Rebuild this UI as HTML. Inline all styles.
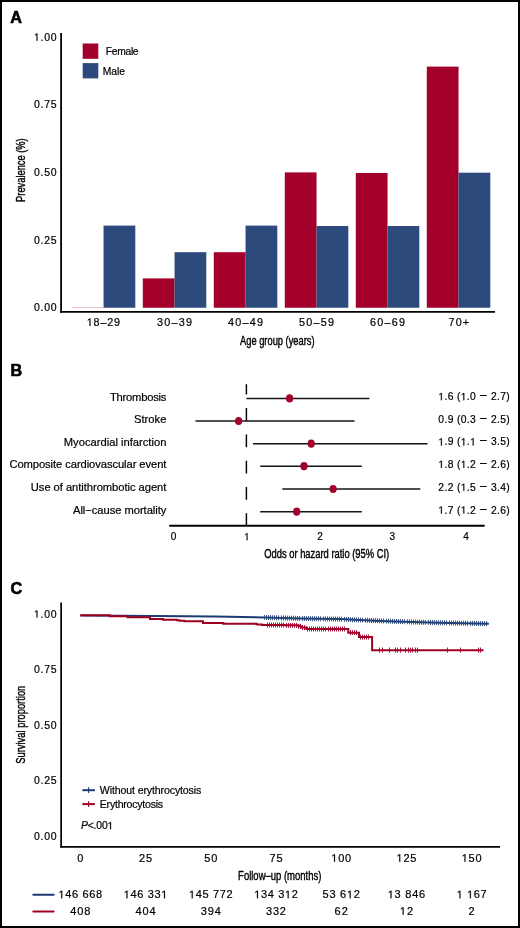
<!DOCTYPE html>
<html><head><meta charset="utf-8"><style>
html,body{margin:0;padding:0;background:#fff;}
svg{display:block;font-family:"Liberation Sans", sans-serif;will-change:transform;}
text{stroke:#000;stroke-width:0.2px;}
.cd{stroke:#000;stroke-width:0.4px;}
.pl{stroke:#000;stroke-width:0.6px;}
</style></head><body>
<svg width="520" height="928" viewBox="0 0 520 928">
<rect width="520" height="928" fill="#fff"/>
<rect x="1" y="1" width="518" height="926" fill="none" stroke="#000" stroke-width="2"/>
<text x="10.2" y="22.6" font-size="16.2" text-anchor="start" font-weight="bold" class="pl">A</text>
<line x1="61.1" y1="33" x2="61.1" y2="312.7" stroke="#000" stroke-width="1.8"/>
<line x1="60.2" y1="311.85" x2="495" y2="311.85" stroke="#000" stroke-width="1.8"/>
<text x="56.6" y="40.8" font-size="10.5" text-anchor="end" textLength="22.7" lengthAdjust="spacing" id="t0"> .00</text>
<text x="56.6" y="108.3" font-size="10.5" text-anchor="end" textLength="22.7" lengthAdjust="spacing" >0.75</text>
<text x="56.6" y="176.0" font-size="10.5" text-anchor="end" textLength="22.7" lengthAdjust="spacing" >0.50</text>
<text x="56.6" y="243.70000000000002" font-size="10.5" text-anchor="end" textLength="22.7" lengthAdjust="spacing" >0.25</text>
<text x="56.6" y="311.1" font-size="10.5" text-anchor="end" textLength="22.7" lengthAdjust="spacing" >0.00</text>
<text x="0" y="0" font-size="12.5" text-anchor="middle" textLength="63.6" lengthAdjust="spacingAndGlyphs" class="cd" transform="translate(25.0,170.1) rotate(-90)">Prevalence (%)</text>
<rect x="71.80" y="307.4" width="31.75" height="0.7" fill="#e59aae"/>
<rect x="103.55" y="225.6" width="31.75" height="82.15" fill="#2c4a7c"/>
<rect x="142.80" y="278.4" width="31.75" height="29.35" fill="#a3002b"/>
<rect x="174.55" y="252.2" width="31.75" height="55.55" fill="#2c4a7c"/>
<rect x="213.80" y="252.2" width="31.75" height="55.55" fill="#a3002b"/>
<rect x="245.55" y="225.6" width="31.75" height="82.15" fill="#2c4a7c"/>
<rect x="284.80" y="172.4" width="31.75" height="135.35" fill="#a3002b"/>
<rect x="316.55" y="226.0" width="31.75" height="81.75" fill="#2c4a7c"/>
<rect x="355.80" y="173.0" width="31.75" height="134.75" fill="#a3002b"/>
<rect x="387.55" y="226.0" width="31.75" height="81.75" fill="#2c4a7c"/>
<rect x="426.80" y="66.6" width="31.75" height="241.15" fill="#a3002b"/>
<rect x="458.55" y="172.7" width="31.75" height="135.05" fill="#2c4a7c"/>
<text x="103.4" y="326" font-size="10.8" text-anchor="middle" textLength="33.2" lengthAdjust="spacing" id="t1"> 8–29</text>
<text x="174.55" y="326" font-size="10.8" text-anchor="middle" textLength="35" lengthAdjust="spacing" >30–39</text>
<text x="245.55" y="326" font-size="10.8" text-anchor="middle" textLength="35" lengthAdjust="spacing" >40–49</text>
<text x="316.55" y="326" font-size="10.8" text-anchor="middle" textLength="35" lengthAdjust="spacing" >50–59</text>
<text x="387.55" y="326" font-size="10.8" text-anchor="middle" textLength="35" lengthAdjust="spacing" >60–69</text>
<text x="458.85" y="326" font-size="10.8" text-anchor="middle" textLength="20.6" lengthAdjust="spacing" >70+</text>
<text x="277.3" y="344.7" font-size="12.5" text-anchor="middle" textLength="74.6" lengthAdjust="spacingAndGlyphs" class="cd">Age group (years)</text>
<rect x="82.7" y="43.5" width="15.6" height="15.3" fill="#a3002b"/>
<rect x="82.7" y="63.1" width="15.6" height="15.3" fill="#2c4a7c"/>
<text x="105.8" y="54.7" font-size="10.3" text-anchor="start" textLength="32.8" lengthAdjust="spacing" >Female</text>
<text x="102.7" y="74.8" font-size="10.3" text-anchor="start" textLength="22.2" lengthAdjust="spacing" >Male</text>
<text x="10.5" y="376.0" font-size="16.2" text-anchor="start" font-weight="bold" class="pl">B</text>
<line x1="246.4" y1="384.3" x2="246.4" y2="525.5" stroke="#000" stroke-width="1.45" stroke-dasharray="12.8 13.5" stroke-dashoffset="2.5"/>
<text x="166.4" y="400.5" font-size="11.2" text-anchor="end" textLength="56.5" lengthAdjust="spacing" >Thrombosis</text>
<line x1="246.4" y1="398.4" x2="369.4" y2="398.4" stroke="#151515" stroke-width="1.55"/>
<ellipse cx="289.6" cy="398.4" rx="3.6" ry="4.1" fill="#a3002b"/>
<text x="438.3" y="400.2" font-size="10.3" text-anchor="start" textLength="71.5" lengthAdjust="spacing" id="t2"> .6 ( .0 <tspan font-size='13.5'>−</tspan> 2.7)</text>
<text x="166.4" y="423.1" font-size="11.2" text-anchor="end" >Stroke</text>
<line x1="195.5" y1="421.0" x2="354.5" y2="421.0" stroke="#151515" stroke-width="1.55"/>
<ellipse cx="238.6" cy="421.0" rx="3.6" ry="4.1" fill="#a3002b"/>
<text x="438.3" y="422.8" font-size="10.3" text-anchor="start" textLength="71.5" lengthAdjust="spacing" >0.9 (0.3 <tspan font-size='13.5'>−</tspan> 2.5)</text>
<text x="166.4" y="445.75" font-size="11.2" text-anchor="end" >Myocardial infarction</text>
<line x1="252.9" y1="443.65" x2="427.6" y2="443.65" stroke="#151515" stroke-width="1.55"/>
<ellipse cx="311.2" cy="443.65" rx="3.6" ry="4.1" fill="#a3002b"/>
<text x="438.3" y="445.45" font-size="10.3" text-anchor="start" textLength="71.5" lengthAdjust="spacing" id="t3"> .9 ( .  <tspan font-size='13.5'>−</tspan> 3.5)</text>
<text x="166.4" y="468.25" font-size="11.2" text-anchor="end" textLength="157.0" lengthAdjust="spacing" >Composite cardiovascular event</text>
<line x1="260.2" y1="466.15" x2="361.8" y2="466.15" stroke="#151515" stroke-width="1.55"/>
<ellipse cx="304.0" cy="466.15" rx="3.6" ry="4.1" fill="#a3002b"/>
<text x="438.3" y="467.95" font-size="10.3" text-anchor="start" textLength="71.5" lengthAdjust="spacing" id="t4"> .8 ( .2 <tspan font-size='13.5'>−</tspan> 2.6)</text>
<text x="166.4" y="491.1" font-size="11.2" text-anchor="end" textLength="135.6" lengthAdjust="spacing" >Use of antithrombotic agent</text>
<line x1="282.3" y1="489.0" x2="420.3" y2="489.0" stroke="#151515" stroke-width="1.55"/>
<ellipse cx="333.1" cy="489.0" rx="3.6" ry="4.1" fill="#a3002b"/>
<text x="438.3" y="490.8" font-size="10.3" text-anchor="start" textLength="71.5" lengthAdjust="spacing" id="t5">2.2 ( .5 <tspan font-size='13.5'>−</tspan> 3.4)</text>
<text x="166.4" y="513.8" font-size="11.2" text-anchor="end" textLength="93.4" lengthAdjust="spacing" >All−cause mortality</text>
<line x1="260.2" y1="511.7" x2="361.8" y2="511.7" stroke="#151515" stroke-width="1.55"/>
<ellipse cx="296.7" cy="511.7" rx="3.6" ry="4.1" fill="#a3002b"/>
<text x="438.3" y="513.5" font-size="10.3" text-anchor="start" textLength="71.5" lengthAdjust="spacing" id="t6"> .7 ( .2 <tspan font-size='13.5'>−</tspan> 2.6)</text>
<line x1="169.2" y1="525.8" x2="484.7" y2="525.8" stroke="#000" stroke-width="1.9"/>
<text x="173.5" y="540.2" font-size="10" text-anchor="middle" >0</text>
<text x="246.9" y="540.2" font-size="10" text-anchor="middle" id="t7"> </text>
<text x="320.0" y="540.2" font-size="10" text-anchor="middle" >2</text>
<text x="392.4" y="540.2" font-size="10" text-anchor="middle" >3</text>
<text x="466.0" y="540.2" font-size="10" text-anchor="middle" >4</text>
<text x="326.7" y="558" font-size="12" text-anchor="middle" textLength="125" lengthAdjust="spacingAndGlyphs" class="cd">Odds or hazard ratio (95% CI)</text>
<text x="10.4" y="594.0" font-size="16.2" text-anchor="start" font-weight="bold" class="pl">C</text>
<line x1="61.15" y1="602.5" x2="61.15" y2="847.6" stroke="#000" stroke-width="1.75"/>
<line x1="60.3" y1="846.75" x2="500" y2="846.75" stroke="#000" stroke-width="1.75"/>
<text x="56.6" y="617.5999999999999" font-size="10.5" text-anchor="end" textLength="22.7" lengthAdjust="spacing" id="t8"> .00</text>
<text x="56.6" y="673.0999999999999" font-size="10.5" text-anchor="end" textLength="22.7" lengthAdjust="spacing" >0.75</text>
<text x="56.6" y="728.5999999999999" font-size="10.5" text-anchor="end" textLength="22.7" lengthAdjust="spacing" >0.50</text>
<text x="56.6" y="784.0999999999999" font-size="10.5" text-anchor="end" textLength="22.7" lengthAdjust="spacing" >0.25</text>
<text x="56.6" y="839.5999999999999" font-size="10.5" text-anchor="end" textLength="22.7" lengthAdjust="spacing" >0.00</text>
<text x="0" y="0" font-size="12.5" text-anchor="middle" textLength="78" lengthAdjust="spacingAndGlyphs" class="cd" transform="translate(24.8,724.7) rotate(-90)">Survival proportion</text>
<text x="80.3" y="861.8" font-size="11" text-anchor="middle" textLength="6.3" lengthAdjust="spacing" >0</text>
<text x="145.53" y="861.8" font-size="11" text-anchor="middle" textLength="13.2" lengthAdjust="spacing" >25</text>
<text x="210.76" y="861.8" font-size="11" text-anchor="middle" textLength="13.2" lengthAdjust="spacing" >50</text>
<text x="275.99" y="861.8" font-size="11" text-anchor="middle" textLength="13.2" lengthAdjust="spacing" >75</text>
<text x="341.22" y="861.8" font-size="11" text-anchor="middle" textLength="19.9" lengthAdjust="spacing" id="t9"> 00</text>
<text x="406.45" y="861.8" font-size="11" text-anchor="middle" textLength="19.9" lengthAdjust="spacing" id="t10"> 25</text>
<text x="471.68" y="861.8" font-size="11" text-anchor="middle" textLength="19.9" lengthAdjust="spacing" id="t11"> 50</text>
<text x="279.7" y="880.2" font-size="12.5" text-anchor="middle" textLength="83.2" lengthAdjust="spacingAndGlyphs" class="cd">Follow–up (months)</text>
<path d="M80.3,615.4 L155.0,616.1 L215.0,616.6 L265.0,617.5 L300.0,618.5 L340.0,619.1 L380.0,620.9 L420.0,622.2 L450.0,623.0 L488.9,623.8" fill="none" stroke="#1b3b73" stroke-width="2"/>
<path d="M264.5,614.9v5 M266.5,615.0v5 M268.5,615.0v5 M270.5,615.1v5 M272.5,615.2v5 M274.5,615.2v5 M276.5,615.3v5 M278.5,615.3v5 M281.5,615.4v5 M283.5,615.5v5 M285.5,615.5v5 M287.5,615.6v5 M289.5,615.6v5 M291.5,615.7v5 M293.5,615.8v5 M295.5,615.8v5 M297.5,615.9v5 M299.5,615.9v5 M302.5,616.0v5 M304.5,616.0v5 M306.5,616.1v5 M308.5,616.1v5 M310.5,616.1v5 M312.5,616.2v5 M314.5,616.2v5 M316.5,616.2v5 M318.5,616.3v5 M320.5,616.3v5 M323.5,616.4v5 M325.5,616.4v5 M327.5,616.4v5 M329.5,616.5v5 M331.5,616.5v5 M333.5,616.5v5 M335.5,616.6v5 M337.5,616.6v5 M339.5,616.6v5 M341.5,616.7v5 M344.5,616.8v5 M346.5,616.9v5 M348.5,617.0v5 M350.5,617.1v5 M352.5,617.2v5 M354.5,617.3v5 M356.5,617.4v5 M358.5,617.4v5 M360.5,617.5v5 M362.5,617.6v5 M365.5,617.7v5 M367.5,617.8v5 M369.5,617.9v5 M371.5,618.0v5 M373.5,618.1v5 M375.5,618.2v5 M377.5,618.2v5 M379.5,618.3v5 M381.5,618.4v5 M383.5,618.5v5 M386.5,618.6v5 M388.5,618.6v5 M390.5,618.7v5 M392.5,618.8v5 M394.5,618.9v5 M396.5,618.9v5 M398.5,619.0v5 M400.5,619.1v5 M402.5,619.1v5 M404.5,619.2v5 M407.5,619.3v5 M409.5,619.4v5 M411.5,619.4v5 M413.5,619.5v5 M415.5,619.6v5 M417.5,619.7v5 M419.5,619.7v5 M421.5,619.8v5 M423.5,619.8v5 M425.5,619.9v5 M428.5,619.9v5 M430.5,620.0v5 M432.5,620.0v5 M434.5,620.1v5 M436.5,620.1v5 M438.5,620.2v5 M440.5,620.2v5 M442.5,620.3v5 M444.5,620.3v5 M446.5,620.4v5 M449.5,620.4v5 M451.5,620.5v5 M453.5,620.5v5 M455.5,620.6v5 M457.5,620.6v5 M459.5,620.6v5 M461.5,620.7v5 M463.5,620.7v5 M465.5,620.8v5 M467.5,620.8v5 M470.5,620.9v5 M472.5,620.9v5 M474.5,620.9v5 M476.5,621.0v5 M478.5,621.0v5 M480.5,621.1v5 M482.5,621.1v5 M484.5,621.2v5 M486.5,621.2v5" stroke="#2c4a7c" stroke-width="0.9" fill="none"/>
<path d="M80.3,615.35 H109.8 V616.15 H127.5 V617.35 H150 V618.95 H163 V619.65 H177 V620.25 H179.5 V620.85 H184.4 V621.35 H203.0 V622.95 H223.3 V623.65 H256.7 V624.5500000000001 H262 V624.95 H285 V625.35 H298.5 V626.35 H301.5 V627.5500000000001 H306.3 V628.95 H348.3 V632.65 H359 V637.0500000000001 H372.1 V650.15 H483.5" fill="none" stroke="#9e0022" stroke-width="2"/>
<path d="M267.5,622.5v5 M269.5,622.5v5 M271.5,622.5v5 M273.5,622.5v5 M275.5,622.5v5 M277.5,622.5v5 M279.5,622.5v5 M281.5,622.5v5 M283.5,622.5v5 M286.5,622.9v5 M288.5,622.9v5 M290.5,622.9v5 M292.5,622.9v5 M294.5,622.9v5 M296.5,622.9v5 M298.5,623.9v5 M300.5,623.9v5 M302.5,625.1v5 M304.5,625.1v5 M307.5,626.5v5 M309.5,626.5v5 M311.5,626.5v5 M313.5,626.5v5 M315.5,626.5v5 M317.5,626.5v5 M319.5,626.5v5 M321.5,626.5v5 M323.5,626.5v5 M325.5,626.5v5 M328.5,626.5v5 M330.5,626.5v5 M332.5,626.5v5 M334.5,626.5v5 M336.5,626.5v5 M338.5,626.5v5 M340.5,626.5v5 M342.5,626.5v5 M344.5,626.5v5 M350.5,630.1v5 M352.5,630.1v5 M354.5,630.1v5 M356.5,630.1v5 M360.5,634.6v5 M362.5,634.6v5 M364.5,634.6v5 M366.5,634.6v5 M368.5,634.6v5 M379.5,647.5v5.2 M382.5,647.5v5.2 M389.5,647.5v5.2 M395.5,647.5v5.2 M397.5,647.5v5.2 M400.5,647.5v5.2 M405.5,647.5v5.2 M408.5,647.5v5.2 M410.5,647.5v5.2 M412.5,647.5v5.2 M415.5,647.5v5.2 M417.5,647.5v5.2 M447.5,647.5v5.2 M460.5,647.5v5.2 M478.5,647.5v5.2 M480.5,647.5v5.2" stroke="#a3002b" stroke-width="0.9" fill="none"/>
<path d="M82.4,790.2H94.9" stroke="#1b3b73" stroke-width="2" fill="none"/>
<path d="M88.6,787.3V792.9" stroke="#1b3b73" stroke-width="1.1" fill="none"/>
<path d="M82.4,804.1H94.9" stroke="#9e0022" stroke-width="2" fill="none"/>
<path d="M88.6,801.2V806.9" stroke="#9e0022" stroke-width="1.1" fill="none"/>
<text x="99.8" y="793.6" font-size="10.6" text-anchor="start" textLength="101.5" lengthAdjust="spacing" >Without erythrocytosis</text>
<text x="99.8" y="807.6" font-size="10.6" text-anchor="start" textLength="63.3" lengthAdjust="spacing" >Erythrocytosis</text>
<text x="80.9" y="829.3" font-size="10.4" text-anchor="start" textLength="32.4" lengthAdjust="spacing" id="t12"><tspan font-style="italic">P</tspan>&lt;.00 </text>
<line x1="33.3" y1="894.7" x2="53.6" y2="894.7" stroke="#1b3b73" stroke-width="2" stroke-linecap="round"/>
<line x1="33.3" y1="911.5" x2="53.6" y2="911.5" stroke="#9e0022" stroke-width="2" stroke-linecap="round"/>
<text x="80.3" y="898.3" font-size="11" text-anchor="middle" textLength="43.6" lengthAdjust="spacing" id="t13"> 46 668</text>
<text x="80.3" y="914.8" font-size="11" text-anchor="middle" textLength="20.0" lengthAdjust="spacing" >408</text>
<text x="145.53" y="898.3" font-size="11" text-anchor="middle" textLength="43.6" lengthAdjust="spacing" id="t14"> 46 33 </text>
<text x="145.53" y="914.8" font-size="11" text-anchor="middle" textLength="20.0" lengthAdjust="spacing" >404</text>
<text x="210.76" y="898.3" font-size="11" text-anchor="middle" textLength="43.6" lengthAdjust="spacing" id="t15"> 45 772</text>
<text x="210.76" y="914.8" font-size="11" text-anchor="middle" textLength="20.0" lengthAdjust="spacing" >394</text>
<text x="275.99" y="898.3" font-size="11" text-anchor="middle" textLength="43.6" lengthAdjust="spacing" id="t16"> 34 3 2</text>
<text x="275.99" y="914.8" font-size="11" text-anchor="middle" textLength="20.0" lengthAdjust="spacing" >332</text>
<text x="341.22" y="898.3" font-size="11" text-anchor="middle" textLength="37.4" lengthAdjust="spacing" id="t17">53 6 2</text>
<text x="341.22" y="914.8" font-size="11" text-anchor="middle" textLength="13.2" lengthAdjust="spacing" >62</text>
<text x="406.45" y="898.3" font-size="11" text-anchor="middle" textLength="37.4" lengthAdjust="spacing" id="t18"> 3 846</text>
<text x="406.45" y="914.8" font-size="11" text-anchor="middle" textLength="13.2" lengthAdjust="spacing" id="t19"> 2</text>
<text x="471.68" y="898.3" font-size="11" text-anchor="middle" textLength="30.0" lengthAdjust="spacing" id="t20">   67</text>
<text x="471.68" y="914.8" font-size="11" text-anchor="middle" textLength="6.3" lengthAdjust="spacing" >2</text>
<path d="M36.54,40.80 L36.54,34.46 L34.91,35.62 L34.91,34.75 L36.62,33.58 L37.47,33.58 L37.47,40.80Z M89.52,326.00 L89.52,319.48 L87.84,320.67 L87.84,319.78 L89.59,318.57 L90.47,318.57 L90.47,326.00Z M440.89,400.20 L440.89,393.98 L439.29,395.12 L439.29,394.27 L440.97,393.11 L441.80,393.11 L441.80,400.20Z M463.36,400.20 L463.36,393.98 L461.76,395.12 L461.76,394.27 L463.44,393.11 L464.27,393.11 L464.27,400.20Z M440.89,445.45 L440.89,439.23 L439.29,440.37 L439.29,439.52 L440.97,438.36 L441.80,438.36 L441.80,445.45Z M463.36,445.45 L463.36,439.23 L461.76,440.37 L461.76,439.52 L463.44,438.36 L464.27,438.36 L464.27,445.45Z M472.69,445.45 L472.69,439.23 L471.10,440.37 L471.10,439.52 L472.77,438.36 L473.61,438.36 L473.61,445.45Z M440.89,467.95 L440.89,461.73 L439.29,462.87 L439.29,462.02 L440.97,460.86 L441.80,460.86 L441.80,467.95Z M463.36,467.95 L463.36,461.73 L461.76,462.87 L461.76,462.02 L463.44,460.86 L464.27,460.86 L464.27,467.95Z M463.36,490.80 L463.36,484.58 L461.76,485.72 L461.76,484.87 L463.44,483.71 L464.27,483.71 L464.27,490.80Z M440.89,513.50 L440.89,507.28 L439.29,508.42 L439.29,507.57 L440.97,506.41 L441.80,506.41 L441.80,513.50Z M463.36,513.50 L463.36,507.28 L461.76,508.42 L461.76,507.57 L463.44,506.41 L464.27,506.41 L464.27,513.50Z M246.63,540.20 L246.63,534.16 L245.08,535.27 L245.08,534.44 L246.71,533.32 L247.52,533.32 L247.52,540.20Z M36.54,617.60 L36.54,611.26 L34.91,612.42 L34.91,611.55 L36.62,610.38 L37.47,610.38 L37.47,617.60Z M334.04,861.80 L334.04,855.16 L332.33,856.38 L332.33,855.46 L334.12,854.23 L335.01,854.23 L335.01,861.80Z M399.27,861.80 L399.27,855.16 L397.56,856.38 L397.56,855.46 L399.35,854.23 L400.24,854.23 L400.24,861.80Z M464.50,861.80 L464.50,855.16 L462.79,856.38 L462.79,855.46 L464.58,854.23 L465.47,854.23 L465.47,861.80Z M110.13,829.30 L110.13,823.02 L108.52,824.17 L108.52,823.31 L110.21,822.14 L111.05,822.14 L111.05,829.30Z M61.27,898.30 L61.27,891.66 L59.56,892.88 L59.56,891.96 L61.35,890.73 L62.24,890.73 L62.24,898.30Z M126.50,898.30 L126.50,891.66 L124.79,892.88 L124.79,891.96 L126.58,890.73 L127.47,890.73 L127.47,898.30Z M163.97,898.30 L163.97,891.66 L162.26,892.88 L162.26,891.96 L164.05,890.73 L164.94,890.73 L164.94,898.30Z M191.73,898.30 L191.73,891.66 L190.02,892.88 L190.02,891.96 L191.81,890.73 L192.70,890.73 L192.70,898.30Z M256.96,898.30 L256.96,891.66 L255.25,892.88 L255.25,891.96 L257.04,890.73 L257.93,890.73 L257.93,898.30Z M287.67,898.30 L287.67,891.66 L285.97,892.88 L285.97,891.96 L287.76,890.73 L288.65,890.73 L288.65,898.30Z M349.69,898.30 L349.69,891.66 L347.99,892.88 L347.99,891.96 L349.77,890.73 L350.67,890.73 L350.67,898.30Z M390.52,898.30 L390.52,891.66 L388.81,892.88 L388.81,891.96 L390.60,890.73 L391.49,890.73 L391.49,898.30Z M402.62,914.80 L402.62,908.16 L400.91,909.38 L400.91,908.46 L402.70,907.23 L403.59,907.23 L403.59,914.80Z M459.45,898.30 L459.45,891.66 L457.74,892.88 L457.74,891.96 L459.53,890.73 L460.42,890.73 L460.42,898.30Z M469.85,898.30 L469.85,891.66 L468.14,892.88 L468.14,891.96 L469.93,890.73 L470.82,890.73 L470.82,898.30Z" fill="#000" stroke="#000" stroke-width="0.2"/>
</svg>
</body></html>
